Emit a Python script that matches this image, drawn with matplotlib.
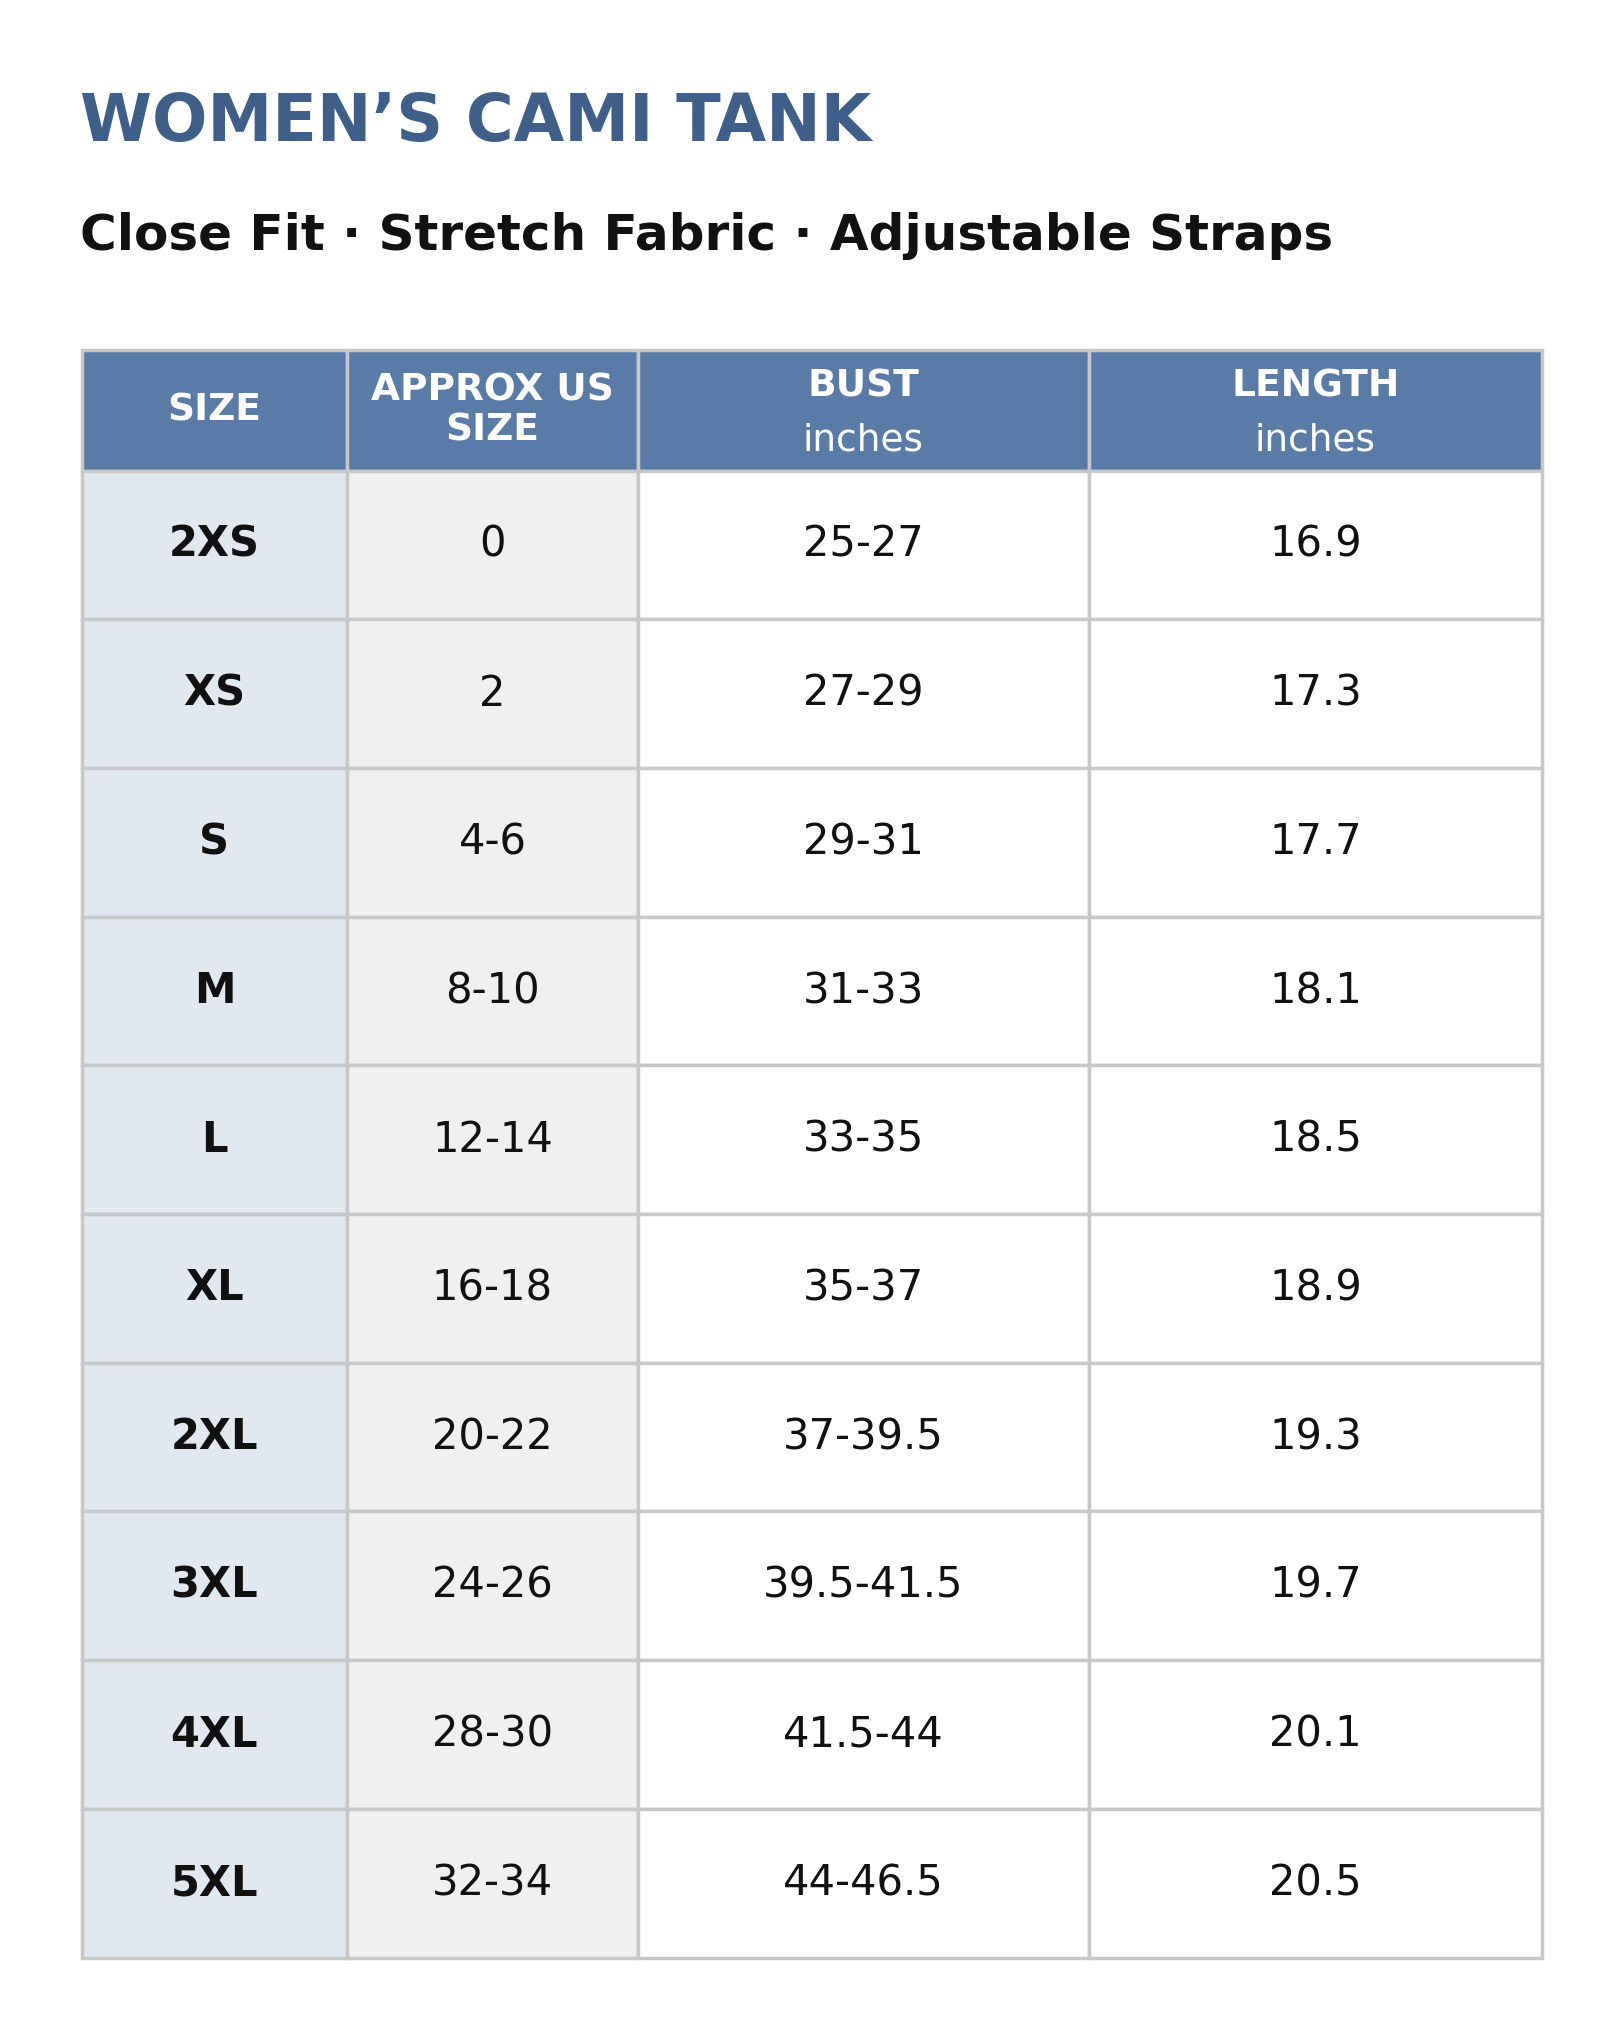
import matplotlib
matplotlib.use("Agg")
import matplotlib.pyplot as plt
from matplotlib.patches import Rectangle

title = "WOMEN’S CAMI TANK"
subtitle = "Close Fit · Stretch Fabric · Adjustable Straps"
headers = [("SIZE", ""), ("APPROX US\nSIZE", ""), ("BUST", "inches"), ("LENGTH", "inches")]
sizes = ["2XS", "XS", "S", "M", "L", "XL", "2XL", "3XL", "4XL", "5XL"]
us_sizes = ["0", "2", "4-6", "8-10", "12-14", "16-18", "20-22", "24-26", "28-30", "32-34"]
bust = ["25-27", "27-29", "29-31", "31-33", "33-35", "35-37", "37-39.5", "39.5-41.5", "41.5-44", "44-46.5"]
length = ["16.9", "17.3", "17.7", "18.1", "18.5", "18.9", "19.3", "19.7", "20.1", "20.5"]

W, H = 1250, 1562
fig = plt.figure(figsize=(16.2, 20.25), dpi=100)
ax = fig.add_axes([0, 0, 1, 1])
ax.set_xlim(0, W); ax.set_ylim(H, 0); ax.axis("off")
FONT = "DejaVu Sans"

ax.text(62, 95, title, fontsize=47, fontweight="bold", color="#3D5F8A", family=FONT, va="center")
ax.text(62, 182, subtitle, fontsize=36, fontweight="bold", color="#111111", family=FONT, va="center")

cols = [63, 268, 492, 840, 1190]
top, hb = 270, 363
rowh = (1510 - hb) / len(sizes)
grid = "#C8C8C8"
hdr = "#587BA8"

for i in range(4):
    ax.add_patch(Rectangle((cols[i], top), cols[i+1]-cols[i], hb-top, facecolor=hdr, edgecolor=grid, lw=2.5))
    cx = (cols[i]+cols[i+1])/2
    main, sub = headers[i]
    if sub:
        ax.text(cx, 298, main, fontsize=27, fontweight="bold", color="white", family=FONT, ha="center", va="center")
        ax.text(cx, 340, sub, fontsize=27, color="white", family=FONT, ha="center", va="center")
    else:
        ax.text(cx, (top+hb)/2, main, fontsize=27, fontweight="bold", color="white", family=FONT,
                ha="center", va="center", linespacing=1.15)

fills = ["#E1E8EF", "#F0F0F0", "white", "white"]
data = [sizes, us_sizes, bust, length]
for r in range(len(sizes)):
    y0 = hb + r*rowh
    for i in range(4):
        ax.add_patch(Rectangle((cols[i], y0), cols[i+1]-cols[i], rowh, facecolor=fills[i], edgecolor=grid, lw=2.5))
        ax.text((cols[i]+cols[i+1])/2, y0+rowh/2, data[i][r], fontsize=30,
                fontweight="bold" if i == 0 else "normal", color="#111111", family=FONT,
                ha="center", va="center")

fig.savefig("out.png", dpi=100, facecolor="white")
